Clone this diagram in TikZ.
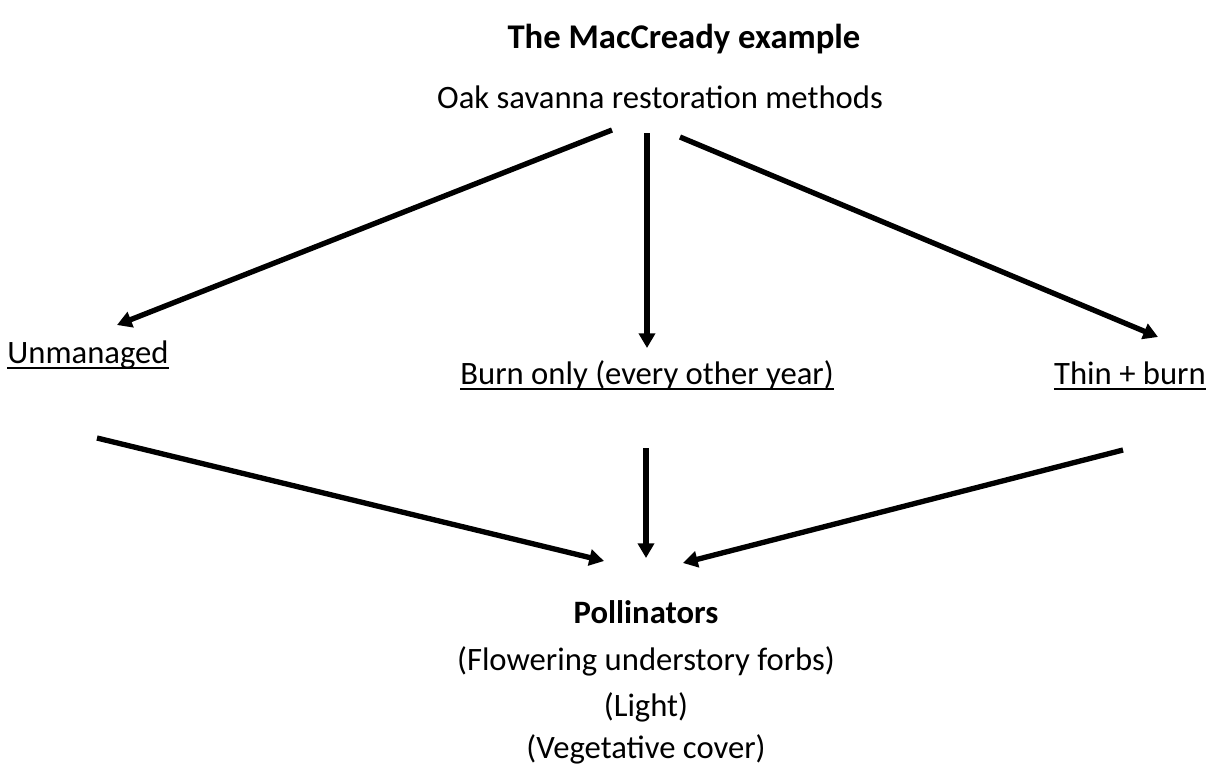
\documentclass[tikz,border=0pt]{standalone}
\usepackage{fontspec}
\setmainfont{Carlito}
\usetikzlibrary{arrows.meta}
\begin{document}
\begin{tikzpicture}[x=0.75pt,y=-0.75pt,
  lbl/.style={inner sep=0pt,anchor=base,font=\fontsize{24.5}{29}\selectfont},
  ttl/.style={inner sep=0pt,anchor=base,font=\fontsize{26}{31}\selectfont\bfseries},
  ul/.style={line width=1.6pt},
  arr/.style={line width=4pt,-{Triangle[length=11pt,width=12pt]}}]
\useasboundingbox[fill=white] (0,0) rectangle (1209,765);
\node[ttl] (title) at (684,48) {The MacCready example};
\node[lbl] (oak) at (660,108) {Oak savanna restoration methods};
\node[lbl] (unm) at (88,363) {Unmanaged};
\node[lbl] (burn) at (647,384) {Burn only (every other year)};
\node[lbl] (thin) at (1130,384) {Thin + burn};
\node[lbl,font=\fontsize{24.5}{29}\selectfont\bfseries] (poll) at (646,623) {Pollinators};
\node[lbl] (flow) at (646,670) {(Flowering understory forbs)};
\node[lbl] (light) at (646,716) {(Light)};
\node[lbl] (veg) at (646,758) {(Vegetative cover)};
\foreach \n in {unm,burn,thin}
  \draw[ul] ([yshift=-3.8pt]\n.base west) -- ([yshift=-3.8pt]\n.base east);
\coordinate (a1s) at (612,130); \coordinate (a1e) at (117,325);
\coordinate (a2s) at (647,133); \coordinate (a2e) at (647,348);
\coordinate (a3s) at (680,137); \coordinate (a3e) at (1158,337);
\coordinate (b1s) at (97,438); \coordinate (b1e) at (604,561);
\coordinate (b2s) at (646,448); \coordinate (b2e) at (646,558);
\coordinate (b3s) at (1123,450); \coordinate (b3e) at (683,563);
\draw[arr] (a1s) -- (a1e);
\draw[arr] (a2s) -- (a2e);
\draw[arr] (a3s) -- (a3e);
\draw[arr] (b1s) -- (b1e);
\draw[arr] (b2s) -- (b2e);
\draw[arr] (b3s) -- (b3e);
\end{tikzpicture}
\end{document}
